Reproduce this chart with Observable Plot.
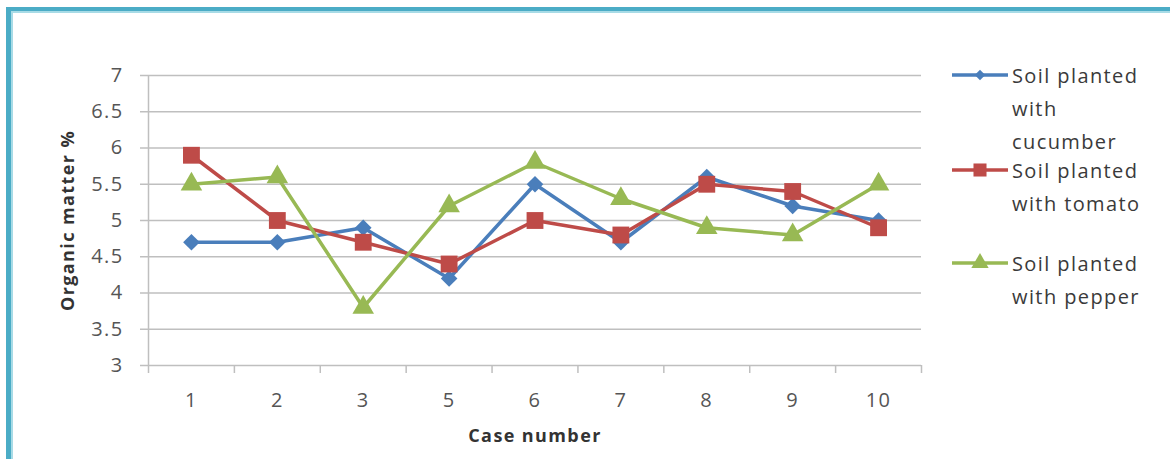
<!DOCTYPE html>
<html><head><meta charset="utf-8">
<script src="https://cdn.jsdelivr.net/npm/d3@7"></script>
<script src="https://cdn.jsdelivr.net/npm/@observablehq/plot@0.6"></script>
<style>
body{margin:0;background:#fff;}
#wrap{position:relative;width:1170px;height:459px;overflow:hidden;background:#fff;font-family:"Open Sans",sans-serif;}
#frame{position:absolute;left:6px;top:7px;right:-20px;bottom:-20px;border-left:5px solid #4bacc6;border-top:4px solid #4bacc6;box-shadow:inset 2px 2px 0 #a8dbe6;}
#chart{position:absolute;left:0;top:0;}
#chart svg text{letter-spacing:1.4px;}
#legend{position:absolute;left:0;top:0;}
.item{position:absolute;left:952px;display:flex;align-items:flex-start;}
.item svg{flex:none;margin-top:6px;}
.item .lab{margin-left:4px;font-size:20px;line-height:33px;color:#3a3a3a;letter-spacing:1.4px;white-space:nowrap;}
</style></head>
<body>
<div id="wrap"><div id="frame"></div><div id="chart"></div><div id="legend"></div></div>
<script>
const categories = ["1","2","3","5","6","7","8","9","10"];
const cucumber = [4.7,4.7,4.9,4.2,5.5,4.7,5.6,5.2,5.0];
const tomato   = [5.9,5.0,4.7,4.4,5.0,4.8,5.5,5.4,4.9];
const pepper   = [5.5,5.6,3.8,5.2,5.8,5.3,4.9,4.8,5.5];
const seriesNames = ["Soil planted with cucumber","Soil planted with tomato","Soil planted with pepper"];
const legendLines = [["Soil planted","with","cucumber"],["Soil planted","with tomato"],["Soil planted","with pepper"]];
const colors = ["#4a7ebb","#be4b48","#98b954"];
const symbols = ["diamond2","square","triangle"];
const yTicks = [3,3.5,4,4.5,5,5.5,6,6.5,7];
const xLabel = "Case number";
const yLabel = "Organic matter %";

const values = [cucumber, tomato, pepper];
const rows = [];
values.forEach((vals, s) => vals.forEach((v, i) => rows.push({series: seriesNames[s], x: i + 0.5, value: v})));
const centers = categories.map((c, i) => i + 0.5);
const bounds = d3.range(0, categories.length + 1);
const dotR = [7.5, 9.5, 8];

const grid = "#bfbfbf";
const chart = Plot.plot({
  width: 1170, height: 459,
  marginLeft: 148, marginRight: 249, marginTop: 75, marginBottom: 94,
  style: {fontFamily: "'Open Sans', sans-serif", fontSize: "20px", color: "#555555", background: "transparent", overflow: "visible"},
  x: {domain: [0, categories.length]},
  y: {domain: [3, 7]},
  color: {domain: seriesNames, range: colors},
  marks: [
    Plot.gridY(yTicks, {stroke: grid, strokeOpacity: 1, strokeWidth: 1.5}),
    Plot.ruleX([0], {stroke: grid, strokeWidth: 1.5}),
    Plot.axisY(yTicks, {tickSize: 8, tickPadding: 17, stroke: grid, strokeWidth: 1.5, strokeOpacity: 1, fill: "#555555", label: null, tickFormat: d => String(d)}),
    Plot.axisX(bounds, {tickSize: 8, stroke: grid, strokeWidth: 1.5, strokeOpacity: 1, tickFormat: () => "", label: null}),
    Plot.axisX(centers, {tickSize: 0, tickPadding: 27, fill: "#555555", tickFormat: d => categories[d - 0.5], label: null}),
    Plot.line(rows, {x: "x", y: "value", z: "series", stroke: "series", strokeWidth: 3.5}),
    ...seriesNames.map((name, s) => Plot.dot(rows.filter(r => r.series === name), {x: "x", y: "value", fill: colors[s], symbol: symbols[s], r: dotR[s], stroke: "none"})),
    Plot.text([yLabel], {frameAnchor: "left", textAnchor: "middle", dx: -80, rotate: -90, fontWeight: "bold", fill: "#333333", fontSize: 18}),
    Plot.text([xLabel], {frameAnchor: "bottom", textAnchor: "middle", dy: 76, fontWeight: "bold", fill: "#333333", fontSize: 18})
  ]
});
document.getElementById("chart").appendChild(chart);

const legendTops = [75, 170, 263];
const legend = document.getElementById("legend");
const legSize = [70, 170, 130];
const legSym = [d3.symbolDiamond2, d3.symbolSquare, d3.symbolTriangle];
seriesNames.forEach((name, s) => {
  const item = document.createElement("div");
  item.className = "item";
  item.style.top = (legendTops[s] - 16.5) + "px";
  const svg = d3.create("svg").attr("width", 56).attr("height", 20);
  svg.append("line").attr("x1", 0).attr("x2", 56).attr("y1", 10).attr("y2", 10).attr("stroke", colors[s]).attr("stroke-width", 3.5);
  svg.append("path").attr("transform", "translate(28,10)").attr("d", d3.symbol(legSym[s], legSize[s])()).attr("fill", colors[s]);
  item.appendChild(svg.node());
  const lab = document.createElement("div");
  lab.className = "lab";
  lab.innerHTML = legendLines[s].join("<br>");
  item.appendChild(lab);
  legend.appendChild(item);
});
</script>
</body></html>
